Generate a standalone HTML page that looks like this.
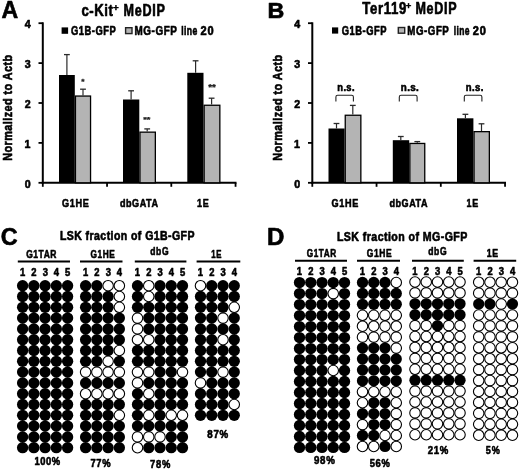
<!DOCTYPE html>
<html><head><meta charset="utf-8"><title>Figure</title>
<style>
html,body{margin:0;padding:0;background:#fff;overflow:hidden;}
svg{display:block;}
text{font-family:"Liberation Sans",sans-serif;font-weight:bold;stroke:#000;stroke-width:0.62px;stroke-linejoin:round;}
</style></head><body>
<svg width="520" height="469" viewBox="0 0 520 469">
<rect x="0" y="0" width="520" height="469" fill="#fff"/>
<text transform="translate(1.42,18.10) scale(0.9844,1)" font-size="23.5" fill="#000">A</text>
<text transform="translate(81.47,15.90) scale(0.8462,1)" font-size="15.6" fill="#000" letter-spacing="0.637">c-Kit</text>
<text transform="translate(113.10,10.51) scale(1.0520,1)" font-size="9.41" fill="#000" style="stroke-width:0.4px">+</text>
<text transform="translate(123.58,15.90) scale(0.8056,1)" font-size="15.6" fill="#000" letter-spacing="0.869">MeDIP</text>
<rect x="61.60" y="27.40" width="6.50" height="6.40" fill="#000"/>
<text transform="translate(71.03,35.20) scale(0.7667,1)" font-size="12.2" fill="#000" letter-spacing="0.670">G1B-GFP</text>
<rect x="125.60" y="27.70" width="6.40" height="5.90" fill="#b4b4b4" stroke="#222" stroke-width="1.4"/>
<text transform="translate(134.46,35.20) scale(0.8101,1)" font-size="12.2" fill="#000" letter-spacing="0.717">MG-GFP</text>
<text transform="translate(181.30,35.20) scale(0.7080,1)" font-size="12.2" fill="#000" letter-spacing="0.494">line</text>
<text transform="translate(200.51,35.20) scale(0.9059,1)" font-size="12.2" fill="#000" letter-spacing="0.950">20</text>
<line x1="42.80" y1="22.30" x2="42.80" y2="183.80" stroke="#000" stroke-width="2"/>
<line x1="41.80" y1="182.80" x2="236.50" y2="182.80" stroke="#000" stroke-width="2"/>
<line x1="38.50" y1="182.80" x2="42.80" y2="182.80" stroke="#000" stroke-width="1.8"/>
<text transform="translate(24.74,187.70) scale(0.9200,1)" font-size="11.6" fill="#000">0</text>
<line x1="38.50" y1="142.90" x2="42.80" y2="142.90" stroke="#000" stroke-width="1.8"/>
<text transform="translate(24.53,147.80) scale(0.9200,1)" font-size="11.6" fill="#000">1</text>
<line x1="38.50" y1="103.00" x2="42.80" y2="103.00" stroke="#000" stroke-width="1.8"/>
<text transform="translate(24.77,107.90) scale(0.9200,1)" font-size="11.6" fill="#000">2</text>
<line x1="38.50" y1="63.10" x2="42.80" y2="63.10" stroke="#000" stroke-width="1.8"/>
<text transform="translate(24.79,68.00) scale(0.9200,1)" font-size="11.6" fill="#000">3</text>
<line x1="38.50" y1="23.20" x2="42.80" y2="23.20" stroke="#000" stroke-width="1.8"/>
<text transform="translate(24.69,28.10) scale(0.9200,1)" font-size="11.6" fill="#000">4</text>
<line x1="42.80" y1="182.80" x2="42.80" y2="186.80" stroke="#000" stroke-width="1.8"/>
<line x1="107.05" y1="182.80" x2="107.05" y2="186.80" stroke="#000" stroke-width="1.8"/>
<line x1="171.30" y1="182.80" x2="171.30" y2="186.80" stroke="#000" stroke-width="1.8"/>
<line x1="235.55" y1="182.80" x2="235.55" y2="186.80" stroke="#000" stroke-width="1.8"/>
<text transform="rotate(-90) translate(-160.71,12.40) scale(0.8481,1)" font-size="12.8" fill="#000" letter-spacing="0.508">Normalized to Actb</text>
<rect x="59.00" y="75.00" width="15.80" height="107.80" fill="#000"/>
<line x1="66.90" y1="54.60" x2="66.90" y2="75.00" stroke="#2a2a2a" stroke-width="1.2"/>
<line x1="64.00" y1="54.60" x2="69.80" y2="54.60" stroke="#2a2a2a" stroke-width="1.3"/>
<rect x="75.45" y="96.05" width="15.10" height="86.75" fill="#b4b4b4" stroke="#000" stroke-width="1.3"/>
<line x1="83.00" y1="89.20" x2="83.00" y2="95.40" stroke="#2a2a2a" stroke-width="1.2"/>
<line x1="80.10" y1="89.20" x2="85.90" y2="89.20" stroke="#2a2a2a" stroke-width="1.3"/>
<rect x="123.00" y="99.50" width="16.30" height="83.30" fill="#000"/>
<line x1="131.10" y1="90.80" x2="131.10" y2="99.50" stroke="#2a2a2a" stroke-width="1.2"/>
<line x1="128.20" y1="90.80" x2="134.00" y2="90.80" stroke="#2a2a2a" stroke-width="1.3"/>
<rect x="139.95" y="132.15" width="15.40" height="50.65" fill="#b4b4b4" stroke="#000" stroke-width="1.3"/>
<line x1="147.20" y1="128.90" x2="147.20" y2="131.50" stroke="#2a2a2a" stroke-width="1.2"/>
<line x1="144.30" y1="128.90" x2="150.10" y2="128.90" stroke="#2a2a2a" stroke-width="1.3"/>
<rect x="187.30" y="72.80" width="16.20" height="110.00" fill="#000"/>
<line x1="195.60" y1="60.80" x2="195.60" y2="72.80" stroke="#2a2a2a" stroke-width="1.2"/>
<line x1="192.70" y1="60.80" x2="198.50" y2="60.80" stroke="#2a2a2a" stroke-width="1.3"/>
<rect x="204.15" y="105.25" width="15.70" height="77.55" fill="#b4b4b4" stroke="#000" stroke-width="1.3"/>
<line x1="211.60" y1="98.20" x2="211.60" y2="104.60" stroke="#2a2a2a" stroke-width="1.2"/>
<line x1="208.70" y1="98.20" x2="214.50" y2="98.20" stroke="#2a2a2a" stroke-width="1.3"/>
<text transform="translate(62.03,207.30) scale(0.7881,1)" font-size="11.6" fill="#000" letter-spacing="0.770">G1HE</text>
<text transform="translate(119.94,207.30) scale(0.7829,1)" font-size="11.6" fill="#000" letter-spacing="0.671">dbGATA</text>
<text transform="translate(197.12,207.30) scale(0.7731,1)" font-size="11.6" fill="#000" letter-spacing="0.978">1E</text>
<text transform="translate(81.26,84.21) scale(1.0744,1)" font-size="7.84" fill="#222" style="stroke-width:0.25px">*</text>
<text transform="translate(143.15,122.19) scale(1.1372,1)" font-size="8.11" fill="#222" style="stroke-width:0.25px">**</text>
<text transform="translate(208.15,90.18) scale(1.1625,1)" font-size="8.38" fill="#222" style="stroke-width:0.25px">**</text>
<text transform="translate(267.39,18.20) scale(1.0346,1)" font-size="22.5" fill="#000">B</text>
<text transform="translate(362.37,13.90) scale(0.8463,1)" font-size="15.6" fill="#000" letter-spacing="0.716">Ter119</text>
<text transform="translate(405.82,8.91) scale(1.0099,1)" font-size="9.41" fill="#000" style="stroke-width:0.4px">+</text>
<text transform="translate(415.49,13.90) scale(0.8036,1)" font-size="15.6" fill="#000" letter-spacing="0.869">MeDIP</text>
<rect x="332.00" y="27.40" width="6.20" height="6.20" fill="#000"/>
<text transform="translate(341.73,35.00) scale(0.7684,1)" font-size="12.2" fill="#000" letter-spacing="0.670">G1B-GFP</text>
<rect x="398.30" y="27.50" width="6.40" height="5.70" fill="#b4b4b4" stroke="#222" stroke-width="1.4"/>
<text transform="translate(407.27,35.00) scale(0.7945,1)" font-size="12.2" fill="#000" letter-spacing="0.717">MG-GFP</text>
<text transform="translate(453.80,35.00) scale(0.6986,1)" font-size="12.2" fill="#000" letter-spacing="0.494">line</text>
<text transform="translate(472.81,35.00) scale(0.9059,1)" font-size="12.2" fill="#000" letter-spacing="0.950">20</text>
<line x1="312.30" y1="22.30" x2="312.30" y2="183.80" stroke="#000" stroke-width="2"/>
<line x1="311.30" y1="182.80" x2="506.00" y2="182.80" stroke="#000" stroke-width="2"/>
<line x1="308.00" y1="182.80" x2="312.30" y2="182.80" stroke="#000" stroke-width="1.8"/>
<text transform="translate(294.24,187.70) scale(0.9200,1)" font-size="11.6" fill="#000">0</text>
<line x1="308.00" y1="142.90" x2="312.30" y2="142.90" stroke="#000" stroke-width="1.8"/>
<text transform="translate(294.03,147.80) scale(0.9200,1)" font-size="11.6" fill="#000">1</text>
<line x1="308.00" y1="103.00" x2="312.30" y2="103.00" stroke="#000" stroke-width="1.8"/>
<text transform="translate(294.27,107.90) scale(0.9200,1)" font-size="11.6" fill="#000">2</text>
<line x1="308.00" y1="63.10" x2="312.30" y2="63.10" stroke="#000" stroke-width="1.8"/>
<text transform="translate(294.29,68.00) scale(0.9200,1)" font-size="11.6" fill="#000">3</text>
<line x1="308.00" y1="23.20" x2="312.30" y2="23.20" stroke="#000" stroke-width="1.8"/>
<text transform="translate(294.19,28.10) scale(0.9200,1)" font-size="11.6" fill="#000">4</text>
<line x1="312.30" y1="182.80" x2="312.30" y2="186.80" stroke="#000" stroke-width="1.8"/>
<line x1="376.55" y1="182.80" x2="376.55" y2="186.80" stroke="#000" stroke-width="1.8"/>
<line x1="440.80" y1="182.80" x2="440.80" y2="186.80" stroke="#000" stroke-width="1.8"/>
<line x1="505.05" y1="182.80" x2="505.05" y2="186.80" stroke="#000" stroke-width="1.8"/>
<text transform="rotate(-90) translate(-160.71,281.90) scale(0.8481,1)" font-size="12.8" fill="#000" letter-spacing="0.508">Normalized to Actb</text>
<rect x="328.50" y="128.50" width="16.10" height="54.30" fill="#000"/>
<line x1="336.50" y1="123.50" x2="336.50" y2="128.50" stroke="#2a2a2a" stroke-width="1.2"/>
<line x1="333.60" y1="123.50" x2="339.40" y2="123.50" stroke="#2a2a2a" stroke-width="1.3"/>
<rect x="345.25" y="115.25" width="15.60" height="67.55" fill="#b4b4b4" stroke="#000" stroke-width="1.3"/>
<line x1="352.80" y1="105.40" x2="352.80" y2="114.60" stroke="#2a2a2a" stroke-width="1.2"/>
<line x1="349.90" y1="105.40" x2="355.70" y2="105.40" stroke="#2a2a2a" stroke-width="1.3"/>
<rect x="392.80" y="140.20" width="16.40" height="42.60" fill="#000"/>
<line x1="400.80" y1="136.50" x2="400.80" y2="140.20" stroke="#2a2a2a" stroke-width="1.2"/>
<line x1="397.90" y1="136.50" x2="403.70" y2="136.50" stroke="#2a2a2a" stroke-width="1.3"/>
<rect x="409.85" y="143.45" width="14.90" height="39.35" fill="#b4b4b4" stroke="#000" stroke-width="1.3"/>
<line x1="417.30" y1="141.60" x2="417.30" y2="142.80" stroke="#2a2a2a" stroke-width="1.2"/>
<line x1="414.40" y1="141.60" x2="420.20" y2="141.60" stroke="#2a2a2a" stroke-width="1.3"/>
<rect x="457.00" y="118.30" width="16.40" height="64.50" fill="#000"/>
<line x1="465.40" y1="114.30" x2="465.40" y2="118.30" stroke="#2a2a2a" stroke-width="1.2"/>
<line x1="462.50" y1="114.30" x2="468.30" y2="114.30" stroke="#2a2a2a" stroke-width="1.3"/>
<rect x="474.05" y="131.65" width="15.30" height="51.15" fill="#b4b4b4" stroke="#000" stroke-width="1.3"/>
<line x1="481.50" y1="123.80" x2="481.50" y2="131.00" stroke="#2a2a2a" stroke-width="1.2"/>
<line x1="478.60" y1="123.80" x2="484.40" y2="123.80" stroke="#2a2a2a" stroke-width="1.3"/>
<text transform="translate(331.53,207.30) scale(0.7881,1)" font-size="11.6" fill="#000" letter-spacing="0.770">G1HE</text>
<text transform="translate(389.44,207.30) scale(0.7829,1)" font-size="11.6" fill="#000" letter-spacing="0.671">dbGATA</text>
<text transform="translate(466.62,207.30) scale(0.7731,1)" font-size="11.6" fill="#000" letter-spacing="0.978">1E</text>
<path d="M335.9,101.6 V96.9 Q335.9,95.2 337.6,95.2 H351.7 Q353.4,95.2 353.4,96.9 V101.6" fill="none" stroke="#222" stroke-width="1.1"/>
<text transform="translate(337.29,90.60) scale(0.8508,1)" font-size="11" fill="#000" letter-spacing="0.439">n.s.</text>
<path d="M399.3,101.6 V96.9 Q399.3,95.2 401.0,95.2 H415.4 Q417.1,95.2 417.1,96.9 V101.6" fill="none" stroke="#222" stroke-width="1.1"/>
<text transform="translate(400.76,90.60) scale(0.8933,1)" font-size="11" fill="#000" letter-spacing="0.439">n.s.</text>
<path d="M464.3,101.6 V96.9 Q464.3,95.2 466.0,95.2 H480.2 Q481.9,95.2 481.9,96.9 V101.6" fill="none" stroke="#222" stroke-width="1.1"/>
<text transform="translate(465.78,90.60) scale(0.8667,1)" font-size="11" fill="#000" letter-spacing="0.439">n.s.</text>
<text transform="translate(0.67,245.40) scale(0.9613,1)" font-size="24.3" fill="#000">C</text>
<text transform="translate(59.92,239.90) scale(0.8364,1)" font-size="12.6" fill="#000" letter-spacing="0.508">LSK fraction of G1B-GFP</text>
<line x1="17.80" y1="261.50" x2="70.00" y2="261.50" stroke="#000" stroke-width="2"/>
<text transform="translate(26.26,257.80) scale(0.7509,1)" font-size="11.3" fill="#000" letter-spacing="0.692">G1TAR</text>
<text transform="translate(19.89,275.70) scale(0.8200,1)" font-size="11.5" fill="#000">1</text>
<text transform="translate(31.36,275.70) scale(0.8200,1)" font-size="11.5" fill="#000">2</text>
<text transform="translate(42.63,275.70) scale(0.8200,1)" font-size="11.5" fill="#000">3</text>
<text transform="translate(53.79,275.70) scale(0.8200,1)" font-size="11.5" fill="#000">4</text>
<text transform="translate(65.06,275.70) scale(0.8200,1)" font-size="11.5" fill="#000">5</text>
<circle cx="22.60" cy="285.70" r="5.65" fill="#000"/>
<circle cx="33.85" cy="285.70" r="5.65" fill="#000"/>
<circle cx="45.10" cy="285.70" r="5.65" fill="#000"/>
<circle cx="56.35" cy="285.70" r="5.65" fill="#000"/>
<circle cx="67.60" cy="285.70" r="5.65" fill="#000"/>
<circle cx="22.60" cy="296.50" r="5.65" fill="#000"/>
<circle cx="33.85" cy="296.50" r="5.65" fill="#000"/>
<circle cx="45.10" cy="296.50" r="5.65" fill="#000"/>
<circle cx="56.35" cy="296.50" r="5.65" fill="#000"/>
<circle cx="67.60" cy="296.50" r="5.65" fill="#000"/>
<circle cx="22.60" cy="307.30" r="5.65" fill="#000"/>
<circle cx="33.85" cy="307.30" r="5.65" fill="#000"/>
<circle cx="45.10" cy="307.30" r="5.65" fill="#000"/>
<circle cx="56.35" cy="307.30" r="5.65" fill="#000"/>
<circle cx="67.60" cy="307.30" r="5.65" fill="#000"/>
<circle cx="22.60" cy="318.10" r="5.65" fill="#000"/>
<circle cx="33.85" cy="318.10" r="5.65" fill="#000"/>
<circle cx="45.10" cy="318.10" r="5.65" fill="#000"/>
<circle cx="56.35" cy="318.10" r="5.65" fill="#000"/>
<circle cx="67.60" cy="318.10" r="5.65" fill="#000"/>
<circle cx="22.60" cy="328.90" r="5.65" fill="#000"/>
<circle cx="33.85" cy="328.90" r="5.65" fill="#000"/>
<circle cx="45.10" cy="328.90" r="5.65" fill="#000"/>
<circle cx="56.35" cy="328.90" r="5.65" fill="#000"/>
<circle cx="67.60" cy="328.90" r="5.65" fill="#000"/>
<circle cx="22.60" cy="339.70" r="5.65" fill="#000"/>
<circle cx="33.85" cy="339.70" r="5.65" fill="#000"/>
<circle cx="45.10" cy="339.70" r="5.65" fill="#000"/>
<circle cx="56.35" cy="339.70" r="5.65" fill="#000"/>
<circle cx="67.60" cy="339.70" r="5.65" fill="#000"/>
<circle cx="22.60" cy="350.50" r="5.65" fill="#000"/>
<circle cx="33.85" cy="350.50" r="5.65" fill="#000"/>
<circle cx="45.10" cy="350.50" r="5.65" fill="#000"/>
<circle cx="56.35" cy="350.50" r="5.65" fill="#000"/>
<circle cx="67.60" cy="350.50" r="5.65" fill="#000"/>
<circle cx="22.60" cy="361.30" r="5.65" fill="#000"/>
<circle cx="33.85" cy="361.30" r="5.65" fill="#000"/>
<circle cx="45.10" cy="361.30" r="5.65" fill="#000"/>
<circle cx="56.35" cy="361.30" r="5.65" fill="#000"/>
<circle cx="67.60" cy="361.30" r="5.65" fill="#000"/>
<circle cx="22.60" cy="372.10" r="5.65" fill="#000"/>
<circle cx="33.85" cy="372.10" r="5.65" fill="#000"/>
<circle cx="45.10" cy="372.10" r="5.65" fill="#000"/>
<circle cx="56.35" cy="372.10" r="5.65" fill="#000"/>
<circle cx="67.60" cy="372.10" r="5.65" fill="#000"/>
<circle cx="22.60" cy="382.90" r="5.65" fill="#000"/>
<circle cx="33.85" cy="382.90" r="5.65" fill="#000"/>
<circle cx="45.10" cy="382.90" r="5.65" fill="#000"/>
<circle cx="56.35" cy="382.90" r="5.65" fill="#000"/>
<circle cx="67.60" cy="382.90" r="5.65" fill="#000"/>
<circle cx="22.60" cy="393.70" r="5.65" fill="#000"/>
<circle cx="33.85" cy="393.70" r="5.65" fill="#000"/>
<circle cx="45.10" cy="393.70" r="5.65" fill="#000"/>
<circle cx="56.35" cy="393.70" r="5.65" fill="#000"/>
<circle cx="67.60" cy="393.70" r="5.65" fill="#000"/>
<circle cx="22.60" cy="404.50" r="5.65" fill="#000"/>
<circle cx="33.85" cy="404.50" r="5.65" fill="#000"/>
<circle cx="45.10" cy="404.50" r="5.65" fill="#000"/>
<circle cx="56.35" cy="404.50" r="5.65" fill="#000"/>
<circle cx="67.60" cy="404.50" r="5.65" fill="#000"/>
<circle cx="22.60" cy="415.30" r="5.65" fill="#000"/>
<circle cx="33.85" cy="415.30" r="5.65" fill="#000"/>
<circle cx="45.10" cy="415.30" r="5.65" fill="#000"/>
<circle cx="56.35" cy="415.30" r="5.65" fill="#000"/>
<circle cx="67.60" cy="415.30" r="5.65" fill="#000"/>
<circle cx="22.60" cy="426.10" r="5.65" fill="#000"/>
<circle cx="33.85" cy="426.10" r="5.65" fill="#000"/>
<circle cx="45.10" cy="426.10" r="5.65" fill="#000"/>
<circle cx="56.35" cy="426.10" r="5.65" fill="#000"/>
<circle cx="67.60" cy="426.10" r="5.65" fill="#000"/>
<circle cx="22.60" cy="436.90" r="5.65" fill="#000"/>
<circle cx="33.85" cy="436.90" r="5.65" fill="#000"/>
<circle cx="45.10" cy="436.90" r="5.65" fill="#000"/>
<circle cx="56.35" cy="436.90" r="5.65" fill="#000"/>
<circle cx="67.60" cy="436.90" r="5.65" fill="#000"/>
<circle cx="22.60" cy="447.70" r="5.65" fill="#000"/>
<circle cx="33.85" cy="447.70" r="5.65" fill="#000"/>
<circle cx="45.10" cy="447.70" r="5.65" fill="#000"/>
<circle cx="56.35" cy="447.70" r="5.65" fill="#000"/>
<circle cx="67.60" cy="447.70" r="5.65" fill="#000"/>
<line x1="80.00" y1="261.50" x2="122.50" y2="261.50" stroke="#000" stroke-width="2"/>
<text transform="translate(90.47,257.80) scale(0.7343,1)" font-size="11.3" fill="#000" letter-spacing="0.750">G1HE</text>
<text transform="translate(82.89,275.70) scale(0.8200,1)" font-size="11.5" fill="#000">1</text>
<text transform="translate(94.36,275.70) scale(0.8200,1)" font-size="11.5" fill="#000">2</text>
<text transform="translate(105.63,275.70) scale(0.8200,1)" font-size="11.5" fill="#000">3</text>
<text transform="translate(116.79,275.70) scale(0.8200,1)" font-size="11.5" fill="#000">4</text>
<circle cx="85.60" cy="285.70" r="5.65" fill="#000"/>
<circle cx="96.85" cy="285.70" r="5.65" fill="#000"/>
<circle cx="108.10" cy="285.70" r="5.25" fill="#fff" stroke="#000" stroke-width="1.1"/>
<circle cx="119.35" cy="285.70" r="5.25" fill="#fff" stroke="#000" stroke-width="1.1"/>
<circle cx="85.60" cy="296.50" r="5.65" fill="#000"/>
<circle cx="96.85" cy="296.50" r="5.65" fill="#000"/>
<circle cx="108.10" cy="296.50" r="5.65" fill="#000"/>
<circle cx="119.35" cy="296.50" r="5.25" fill="#fff" stroke="#000" stroke-width="1.1"/>
<circle cx="85.60" cy="307.30" r="5.65" fill="#000"/>
<circle cx="96.85" cy="307.30" r="5.65" fill="#000"/>
<circle cx="108.10" cy="307.30" r="5.65" fill="#000"/>
<circle cx="119.35" cy="307.30" r="5.25" fill="#fff" stroke="#000" stroke-width="1.1"/>
<circle cx="85.60" cy="318.10" r="5.65" fill="#000"/>
<circle cx="96.85" cy="318.10" r="5.65" fill="#000"/>
<circle cx="108.10" cy="318.10" r="5.65" fill="#000"/>
<circle cx="119.35" cy="318.10" r="5.65" fill="#000"/>
<circle cx="85.60" cy="328.90" r="5.65" fill="#000"/>
<circle cx="96.85" cy="328.90" r="5.65" fill="#000"/>
<circle cx="108.10" cy="328.90" r="5.65" fill="#000"/>
<circle cx="119.35" cy="328.90" r="5.65" fill="#000"/>
<circle cx="85.60" cy="339.70" r="5.65" fill="#000"/>
<circle cx="96.85" cy="339.70" r="5.65" fill="#000"/>
<circle cx="108.10" cy="339.70" r="5.65" fill="#000"/>
<circle cx="119.35" cy="339.70" r="5.65" fill="#000"/>
<circle cx="85.60" cy="350.50" r="5.65" fill="#000"/>
<circle cx="96.85" cy="350.50" r="5.65" fill="#000"/>
<circle cx="108.10" cy="350.50" r="5.65" fill="#000"/>
<circle cx="119.35" cy="350.50" r="5.25" fill="#fff" stroke="#000" stroke-width="1.1"/>
<circle cx="85.60" cy="361.30" r="5.65" fill="#000"/>
<circle cx="96.85" cy="361.30" r="5.65" fill="#000"/>
<circle cx="108.10" cy="361.30" r="5.25" fill="#fff" stroke="#000" stroke-width="1.1"/>
<circle cx="119.35" cy="361.30" r="5.65" fill="#000"/>
<circle cx="85.60" cy="372.10" r="5.25" fill="#fff" stroke="#000" stroke-width="1.1"/>
<circle cx="96.85" cy="372.10" r="5.25" fill="#fff" stroke="#000" stroke-width="1.1"/>
<circle cx="108.10" cy="372.10" r="5.25" fill="#fff" stroke="#000" stroke-width="1.1"/>
<circle cx="119.35" cy="372.10" r="5.25" fill="#fff" stroke="#000" stroke-width="1.1"/>
<circle cx="85.60" cy="382.90" r="5.65" fill="#000"/>
<circle cx="96.85" cy="382.90" r="5.65" fill="#000"/>
<circle cx="108.10" cy="382.90" r="5.65" fill="#000"/>
<circle cx="119.35" cy="382.90" r="5.65" fill="#000"/>
<circle cx="85.60" cy="393.70" r="5.25" fill="#fff" stroke="#000" stroke-width="1.1"/>
<circle cx="96.85" cy="393.70" r="5.25" fill="#fff" stroke="#000" stroke-width="1.1"/>
<circle cx="108.10" cy="393.70" r="5.25" fill="#fff" stroke="#000" stroke-width="1.1"/>
<circle cx="119.35" cy="393.70" r="5.25" fill="#fff" stroke="#000" stroke-width="1.1"/>
<circle cx="85.60" cy="404.50" r="5.65" fill="#000"/>
<circle cx="96.85" cy="404.50" r="5.65" fill="#000"/>
<circle cx="108.10" cy="404.50" r="5.65" fill="#000"/>
<circle cx="119.35" cy="404.50" r="5.65" fill="#000"/>
<circle cx="85.60" cy="415.30" r="5.65" fill="#000"/>
<circle cx="96.85" cy="415.30" r="5.65" fill="#000"/>
<circle cx="108.10" cy="415.30" r="5.65" fill="#000"/>
<circle cx="119.35" cy="415.30" r="5.25" fill="#fff" stroke="#000" stroke-width="1.1"/>
<circle cx="85.60" cy="426.10" r="5.65" fill="#000"/>
<circle cx="96.85" cy="426.10" r="5.65" fill="#000"/>
<circle cx="108.10" cy="426.10" r="5.65" fill="#000"/>
<circle cx="119.35" cy="426.10" r="5.65" fill="#000"/>
<circle cx="85.60" cy="436.90" r="5.65" fill="#000"/>
<circle cx="96.85" cy="436.90" r="5.65" fill="#000"/>
<circle cx="108.10" cy="436.90" r="5.65" fill="#000"/>
<circle cx="119.35" cy="436.90" r="5.65" fill="#000"/>
<circle cx="85.60" cy="447.70" r="5.65" fill="#000"/>
<circle cx="96.85" cy="447.70" r="5.65" fill="#000"/>
<circle cx="108.10" cy="447.70" r="5.65" fill="#000"/>
<circle cx="119.35" cy="447.70" r="5.65" fill="#000"/>
<line x1="134.80" y1="261.50" x2="186.40" y2="261.50" stroke="#000" stroke-width="2"/>
<text transform="translate(150.26,255.20) scale(0.7557,1)" font-size="11.3" fill="#000" letter-spacing="0.806">dbG</text>
<text transform="translate(134.79,275.70) scale(0.8200,1)" font-size="11.5" fill="#000">1</text>
<text transform="translate(146.26,275.70) scale(0.8200,1)" font-size="11.5" fill="#000">2</text>
<text transform="translate(157.53,275.70) scale(0.8200,1)" font-size="11.5" fill="#000">3</text>
<text transform="translate(168.69,275.70) scale(0.8200,1)" font-size="11.5" fill="#000">4</text>
<text transform="translate(179.96,275.70) scale(0.8200,1)" font-size="11.5" fill="#000">5</text>
<circle cx="137.50" cy="285.70" r="5.65" fill="#000"/>
<circle cx="148.75" cy="285.70" r="5.25" fill="#fff" stroke="#000" stroke-width="1.1"/>
<circle cx="160.00" cy="285.70" r="5.65" fill="#000"/>
<circle cx="171.25" cy="285.70" r="5.65" fill="#000"/>
<circle cx="182.50" cy="285.70" r="5.65" fill="#000"/>
<circle cx="137.50" cy="296.50" r="5.65" fill="#000"/>
<circle cx="148.75" cy="296.50" r="5.25" fill="#fff" stroke="#000" stroke-width="1.1"/>
<circle cx="160.00" cy="296.50" r="5.65" fill="#000"/>
<circle cx="171.25" cy="296.50" r="5.65" fill="#000"/>
<circle cx="182.50" cy="296.50" r="5.65" fill="#000"/>
<circle cx="137.50" cy="307.30" r="5.65" fill="#000"/>
<circle cx="148.75" cy="307.30" r="5.65" fill="#000"/>
<circle cx="160.00" cy="307.30" r="5.65" fill="#000"/>
<circle cx="171.25" cy="307.30" r="5.65" fill="#000"/>
<circle cx="182.50" cy="307.30" r="5.65" fill="#000"/>
<circle cx="137.50" cy="318.10" r="5.25" fill="#fff" stroke="#000" stroke-width="1.1"/>
<circle cx="148.75" cy="318.10" r="5.65" fill="#000"/>
<circle cx="160.00" cy="318.10" r="5.65" fill="#000"/>
<circle cx="171.25" cy="318.10" r="5.65" fill="#000"/>
<circle cx="182.50" cy="318.10" r="5.65" fill="#000"/>
<circle cx="137.50" cy="328.90" r="5.25" fill="#fff" stroke="#000" stroke-width="1.1"/>
<circle cx="148.75" cy="328.90" r="5.65" fill="#000"/>
<circle cx="160.00" cy="328.90" r="5.65" fill="#000"/>
<circle cx="171.25" cy="328.90" r="5.65" fill="#000"/>
<circle cx="182.50" cy="328.90" r="5.65" fill="#000"/>
<circle cx="137.50" cy="339.70" r="5.25" fill="#fff" stroke="#000" stroke-width="1.1"/>
<circle cx="148.75" cy="339.70" r="5.25" fill="#fff" stroke="#000" stroke-width="1.1"/>
<circle cx="160.00" cy="339.70" r="5.65" fill="#000"/>
<circle cx="171.25" cy="339.70" r="5.65" fill="#000"/>
<circle cx="182.50" cy="339.70" r="5.65" fill="#000"/>
<circle cx="137.50" cy="350.50" r="5.65" fill="#000"/>
<circle cx="148.75" cy="350.50" r="5.65" fill="#000"/>
<circle cx="160.00" cy="350.50" r="5.65" fill="#000"/>
<circle cx="171.25" cy="350.50" r="5.65" fill="#000"/>
<circle cx="182.50" cy="350.50" r="5.65" fill="#000"/>
<circle cx="137.50" cy="361.30" r="5.65" fill="#000"/>
<circle cx="148.75" cy="361.30" r="5.65" fill="#000"/>
<circle cx="160.00" cy="361.30" r="5.65" fill="#000"/>
<circle cx="171.25" cy="361.30" r="5.65" fill="#000"/>
<circle cx="182.50" cy="361.30" r="5.65" fill="#000"/>
<circle cx="137.50" cy="372.10" r="5.25" fill="#fff" stroke="#000" stroke-width="1.1"/>
<circle cx="148.75" cy="372.10" r="5.25" fill="#fff" stroke="#000" stroke-width="1.1"/>
<circle cx="160.00" cy="372.10" r="5.65" fill="#000"/>
<circle cx="171.25" cy="372.10" r="5.65" fill="#000"/>
<circle cx="182.50" cy="372.10" r="5.25" fill="#fff" stroke="#000" stroke-width="1.1"/>
<circle cx="137.50" cy="382.90" r="5.25" fill="#fff" stroke="#000" stroke-width="1.1"/>
<circle cx="148.75" cy="382.90" r="5.65" fill="#000"/>
<circle cx="160.00" cy="382.90" r="5.65" fill="#000"/>
<circle cx="171.25" cy="382.90" r="5.65" fill="#000"/>
<circle cx="182.50" cy="382.90" r="5.65" fill="#000"/>
<circle cx="137.50" cy="393.70" r="5.65" fill="#000"/>
<circle cx="148.75" cy="393.70" r="5.25" fill="#fff" stroke="#000" stroke-width="1.1"/>
<circle cx="160.00" cy="393.70" r="5.65" fill="#000"/>
<circle cx="171.25" cy="393.70" r="5.65" fill="#000"/>
<circle cx="182.50" cy="393.70" r="5.65" fill="#000"/>
<circle cx="137.50" cy="404.50" r="5.65" fill="#000"/>
<circle cx="148.75" cy="404.50" r="5.65" fill="#000"/>
<circle cx="160.00" cy="404.50" r="5.65" fill="#000"/>
<circle cx="171.25" cy="404.50" r="5.65" fill="#000"/>
<circle cx="182.50" cy="404.50" r="5.65" fill="#000"/>
<circle cx="137.50" cy="415.30" r="5.65" fill="#000"/>
<circle cx="148.75" cy="415.30" r="5.25" fill="#fff" stroke="#000" stroke-width="1.1"/>
<circle cx="160.00" cy="415.30" r="5.65" fill="#000"/>
<circle cx="171.25" cy="415.30" r="5.25" fill="#fff" stroke="#000" stroke-width="1.1"/>
<circle cx="182.50" cy="415.30" r="5.25" fill="#fff" stroke="#000" stroke-width="1.1"/>
<circle cx="137.50" cy="426.10" r="5.65" fill="#000"/>
<circle cx="148.75" cy="426.10" r="5.65" fill="#000"/>
<circle cx="160.00" cy="426.10" r="5.65" fill="#000"/>
<circle cx="171.25" cy="426.10" r="5.65" fill="#000"/>
<circle cx="182.50" cy="426.10" r="5.65" fill="#000"/>
<circle cx="137.50" cy="436.90" r="5.25" fill="#fff" stroke="#000" stroke-width="1.1"/>
<circle cx="148.75" cy="436.90" r="5.25" fill="#fff" stroke="#000" stroke-width="1.1"/>
<circle cx="160.00" cy="436.90" r="5.25" fill="#fff" stroke="#000" stroke-width="1.1"/>
<circle cx="171.25" cy="436.90" r="5.65" fill="#000"/>
<circle cx="182.50" cy="436.90" r="5.65" fill="#000"/>
<circle cx="137.50" cy="447.70" r="5.25" fill="#fff" stroke="#000" stroke-width="1.1"/>
<circle cx="148.75" cy="447.70" r="5.65" fill="#000"/>
<circle cx="160.00" cy="447.70" r="5.65" fill="#000"/>
<circle cx="171.25" cy="447.70" r="5.65" fill="#000"/>
<circle cx="182.50" cy="447.70" r="5.65" fill="#000"/>
<line x1="196.60" y1="261.50" x2="240.30" y2="261.50" stroke="#000" stroke-width="2"/>
<text transform="translate(211.29,258.40) scale(0.6907,1)" font-size="11.3" fill="#000" letter-spacing="0.953">1E</text>
<text transform="translate(197.79,275.70) scale(0.8200,1)" font-size="11.5" fill="#000">1</text>
<text transform="translate(209.26,275.70) scale(0.8200,1)" font-size="11.5" fill="#000">2</text>
<text transform="translate(220.53,275.70) scale(0.8200,1)" font-size="11.5" fill="#000">3</text>
<text transform="translate(231.69,275.70) scale(0.8200,1)" font-size="11.5" fill="#000">4</text>
<circle cx="200.50" cy="285.70" r="5.25" fill="#fff" stroke="#000" stroke-width="1.1"/>
<circle cx="211.75" cy="285.70" r="5.65" fill="#000"/>
<circle cx="223.00" cy="285.70" r="5.65" fill="#000"/>
<circle cx="234.25" cy="285.70" r="5.65" fill="#000"/>
<circle cx="200.50" cy="296.50" r="5.65" fill="#000"/>
<circle cx="211.75" cy="296.50" r="5.65" fill="#000"/>
<circle cx="223.00" cy="296.50" r="5.65" fill="#000"/>
<circle cx="234.25" cy="296.50" r="5.65" fill="#000"/>
<circle cx="200.50" cy="307.30" r="5.65" fill="#000"/>
<circle cx="211.75" cy="307.30" r="5.65" fill="#000"/>
<circle cx="223.00" cy="307.30" r="5.65" fill="#000"/>
<circle cx="234.25" cy="307.30" r="5.25" fill="#fff" stroke="#000" stroke-width="1.1"/>
<circle cx="200.50" cy="318.10" r="5.65" fill="#000"/>
<circle cx="211.75" cy="318.10" r="5.65" fill="#000"/>
<circle cx="223.00" cy="318.10" r="5.25" fill="#fff" stroke="#000" stroke-width="1.1"/>
<circle cx="234.25" cy="318.10" r="5.65" fill="#000"/>
<circle cx="200.50" cy="328.90" r="5.65" fill="#000"/>
<circle cx="211.75" cy="328.90" r="5.65" fill="#000"/>
<circle cx="223.00" cy="328.90" r="5.65" fill="#000"/>
<circle cx="234.25" cy="328.90" r="5.65" fill="#000"/>
<circle cx="200.50" cy="339.70" r="5.65" fill="#000"/>
<circle cx="211.75" cy="339.70" r="5.65" fill="#000"/>
<circle cx="223.00" cy="339.70" r="5.25" fill="#fff" stroke="#000" stroke-width="1.1"/>
<circle cx="234.25" cy="339.70" r="5.65" fill="#000"/>
<circle cx="200.50" cy="350.50" r="5.65" fill="#000"/>
<circle cx="211.75" cy="350.50" r="5.65" fill="#000"/>
<circle cx="223.00" cy="350.50" r="5.65" fill="#000"/>
<circle cx="234.25" cy="350.50" r="5.65" fill="#000"/>
<circle cx="200.50" cy="361.30" r="5.65" fill="#000"/>
<circle cx="211.75" cy="361.30" r="5.65" fill="#000"/>
<circle cx="223.00" cy="361.30" r="5.65" fill="#000"/>
<circle cx="234.25" cy="361.30" r="5.65" fill="#000"/>
<circle cx="200.50" cy="372.10" r="5.65" fill="#000"/>
<circle cx="211.75" cy="372.10" r="5.65" fill="#000"/>
<circle cx="223.00" cy="372.10" r="5.25" fill="#fff" stroke="#000" stroke-width="1.1"/>
<circle cx="234.25" cy="372.10" r="5.65" fill="#000"/>
<circle cx="200.50" cy="382.90" r="5.25" fill="#fff" stroke="#000" stroke-width="1.1"/>
<circle cx="211.75" cy="382.90" r="5.65" fill="#000"/>
<circle cx="223.00" cy="382.90" r="5.65" fill="#000"/>
<circle cx="234.25" cy="382.90" r="5.65" fill="#000"/>
<circle cx="200.50" cy="393.70" r="5.65" fill="#000"/>
<circle cx="211.75" cy="393.70" r="5.65" fill="#000"/>
<circle cx="223.00" cy="393.70" r="5.65" fill="#000"/>
<circle cx="234.25" cy="393.70" r="5.65" fill="#000"/>
<circle cx="200.50" cy="404.50" r="5.65" fill="#000"/>
<circle cx="211.75" cy="404.50" r="5.65" fill="#000"/>
<circle cx="223.00" cy="404.50" r="5.65" fill="#000"/>
<circle cx="234.25" cy="404.50" r="5.25" fill="#fff" stroke="#000" stroke-width="1.1"/>
<circle cx="200.50" cy="415.30" r="5.65" fill="#000"/>
<circle cx="211.75" cy="415.30" r="5.65" fill="#000"/>
<circle cx="223.00" cy="415.30" r="5.65" fill="#000"/>
<circle cx="234.25" cy="415.30" r="5.65" fill="#000"/>
<text transform="translate(34.39,465.40) scale(0.8257,1)" font-size="11.4" fill="#000" letter-spacing="0.706">100%</text>
<text transform="translate(90.38,467.00) scale(0.8242,1)" font-size="11.4" fill="#000" letter-spacing="0.828">77%</text>
<text transform="translate(150.08,467.60) scale(0.8242,1)" font-size="11.4" fill="#000" letter-spacing="0.828">78%</text>
<text transform="translate(207.31,437.60) scale(0.8556,1)" font-size="11.4" fill="#000" letter-spacing="0.834">87%</text>
<text transform="translate(267.04,244.80) scale(1.0284,1)" font-size="23.4" fill="#000">D</text>
<text transform="translate(336.91,240.50) scale(0.8425,1)" font-size="12.6" fill="#000" letter-spacing="0.512">LSK fraction of MG-GFP</text>
<line x1="295.00" y1="260.70" x2="347.00" y2="260.70" stroke="#000" stroke-width="2"/>
<text transform="translate(306.87,257.20) scale(0.7282,1)" font-size="11.3" fill="#000" letter-spacing="0.692">G1TAR</text>
<text transform="translate(296.79,275.00) scale(0.8200,1)" font-size="11.5" fill="#000">1</text>
<text transform="translate(308.26,275.00) scale(0.8200,1)" font-size="11.5" fill="#000">2</text>
<text transform="translate(319.53,275.00) scale(0.8200,1)" font-size="11.5" fill="#000">3</text>
<text transform="translate(330.69,275.00) scale(0.8200,1)" font-size="11.5" fill="#000">4</text>
<text transform="translate(341.96,275.00) scale(0.8200,1)" font-size="11.5" fill="#000">5</text>
<circle cx="299.50" cy="282.60" r="5.65" fill="#000"/>
<circle cx="310.75" cy="282.60" r="5.65" fill="#000"/>
<circle cx="322.00" cy="282.60" r="5.65" fill="#000"/>
<circle cx="333.25" cy="282.60" r="5.65" fill="#000"/>
<circle cx="344.50" cy="282.60" r="5.65" fill="#000"/>
<circle cx="299.50" cy="293.59" r="5.65" fill="#000"/>
<circle cx="310.75" cy="293.59" r="5.65" fill="#000"/>
<circle cx="322.00" cy="293.59" r="5.65" fill="#000"/>
<circle cx="333.25" cy="293.59" r="5.25" fill="#fff" stroke="#000" stroke-width="1.1"/>
<circle cx="344.50" cy="293.59" r="5.65" fill="#000"/>
<circle cx="299.50" cy="304.58" r="5.65" fill="#000"/>
<circle cx="310.75" cy="304.58" r="5.65" fill="#000"/>
<circle cx="322.00" cy="304.58" r="5.65" fill="#000"/>
<circle cx="333.25" cy="304.58" r="5.65" fill="#000"/>
<circle cx="344.50" cy="304.58" r="5.65" fill="#000"/>
<circle cx="299.50" cy="315.57" r="5.65" fill="#000"/>
<circle cx="310.75" cy="315.57" r="5.65" fill="#000"/>
<circle cx="322.00" cy="315.57" r="5.65" fill="#000"/>
<circle cx="333.25" cy="315.57" r="5.65" fill="#000"/>
<circle cx="344.50" cy="315.57" r="5.65" fill="#000"/>
<circle cx="299.50" cy="326.56" r="5.65" fill="#000"/>
<circle cx="310.75" cy="326.56" r="5.65" fill="#000"/>
<circle cx="322.00" cy="326.56" r="5.65" fill="#000"/>
<circle cx="333.25" cy="326.56" r="5.65" fill="#000"/>
<circle cx="344.50" cy="326.56" r="5.65" fill="#000"/>
<circle cx="299.50" cy="337.55" r="5.65" fill="#000"/>
<circle cx="310.75" cy="337.55" r="5.65" fill="#000"/>
<circle cx="322.00" cy="337.55" r="5.65" fill="#000"/>
<circle cx="333.25" cy="337.55" r="5.65" fill="#000"/>
<circle cx="344.50" cy="337.55" r="5.65" fill="#000"/>
<circle cx="299.50" cy="348.54" r="5.65" fill="#000"/>
<circle cx="310.75" cy="348.54" r="5.65" fill="#000"/>
<circle cx="322.00" cy="348.54" r="5.65" fill="#000"/>
<circle cx="333.25" cy="348.54" r="5.65" fill="#000"/>
<circle cx="344.50" cy="348.54" r="5.65" fill="#000"/>
<circle cx="299.50" cy="359.53" r="5.65" fill="#000"/>
<circle cx="310.75" cy="359.53" r="5.65" fill="#000"/>
<circle cx="322.00" cy="359.53" r="5.65" fill="#000"/>
<circle cx="333.25" cy="359.53" r="5.65" fill="#000"/>
<circle cx="344.50" cy="359.53" r="5.65" fill="#000"/>
<circle cx="299.50" cy="370.52" r="5.65" fill="#000"/>
<circle cx="310.75" cy="370.52" r="5.65" fill="#000"/>
<circle cx="322.00" cy="370.52" r="5.65" fill="#000"/>
<circle cx="333.25" cy="370.52" r="5.25" fill="#fff" stroke="#000" stroke-width="1.1"/>
<circle cx="344.50" cy="370.52" r="5.65" fill="#000"/>
<circle cx="299.50" cy="381.51" r="5.65" fill="#000"/>
<circle cx="310.75" cy="381.51" r="5.65" fill="#000"/>
<circle cx="322.00" cy="381.51" r="5.65" fill="#000"/>
<circle cx="333.25" cy="381.51" r="5.65" fill="#000"/>
<circle cx="344.50" cy="381.51" r="5.65" fill="#000"/>
<circle cx="299.50" cy="392.50" r="5.65" fill="#000"/>
<circle cx="310.75" cy="392.50" r="5.65" fill="#000"/>
<circle cx="322.00" cy="392.50" r="5.65" fill="#000"/>
<circle cx="333.25" cy="392.50" r="5.65" fill="#000"/>
<circle cx="344.50" cy="392.50" r="5.65" fill="#000"/>
<circle cx="299.50" cy="403.49" r="5.65" fill="#000"/>
<circle cx="310.75" cy="403.49" r="5.65" fill="#000"/>
<circle cx="322.00" cy="403.49" r="5.65" fill="#000"/>
<circle cx="333.25" cy="403.49" r="5.65" fill="#000"/>
<circle cx="344.50" cy="403.49" r="5.65" fill="#000"/>
<circle cx="299.50" cy="414.48" r="5.65" fill="#000"/>
<circle cx="310.75" cy="414.48" r="5.65" fill="#000"/>
<circle cx="322.00" cy="414.48" r="5.65" fill="#000"/>
<circle cx="333.25" cy="414.48" r="5.65" fill="#000"/>
<circle cx="344.50" cy="414.48" r="5.65" fill="#000"/>
<circle cx="299.50" cy="425.47" r="5.65" fill="#000"/>
<circle cx="310.75" cy="425.47" r="5.65" fill="#000"/>
<circle cx="322.00" cy="425.47" r="5.65" fill="#000"/>
<circle cx="333.25" cy="425.47" r="5.65" fill="#000"/>
<circle cx="344.50" cy="425.47" r="5.65" fill="#000"/>
<circle cx="299.50" cy="436.46" r="5.65" fill="#000"/>
<circle cx="310.75" cy="436.46" r="5.65" fill="#000"/>
<circle cx="322.00" cy="436.46" r="5.65" fill="#000"/>
<circle cx="333.25" cy="436.46" r="5.65" fill="#000"/>
<circle cx="344.50" cy="436.46" r="5.65" fill="#000"/>
<circle cx="299.50" cy="447.45" r="5.65" fill="#000"/>
<circle cx="310.75" cy="447.45" r="5.65" fill="#000"/>
<circle cx="322.00" cy="447.45" r="5.65" fill="#000"/>
<circle cx="333.25" cy="447.45" r="5.65" fill="#000"/>
<circle cx="344.50" cy="447.45" r="5.65" fill="#000"/>
<line x1="357.00" y1="260.70" x2="400.00" y2="260.70" stroke="#000" stroke-width="2"/>
<text transform="translate(366.86,257.20) scale(0.7530,1)" font-size="11.3" fill="#000" letter-spacing="0.750">G1HE</text>
<text transform="translate(359.79,275.00) scale(0.8200,1)" font-size="11.5" fill="#000">1</text>
<text transform="translate(371.26,275.00) scale(0.8200,1)" font-size="11.5" fill="#000">2</text>
<text transform="translate(382.53,275.00) scale(0.8200,1)" font-size="11.5" fill="#000">3</text>
<text transform="translate(393.69,275.00) scale(0.8200,1)" font-size="11.5" fill="#000">4</text>
<circle cx="362.50" cy="282.50" r="5.65" fill="#000"/>
<circle cx="373.75" cy="282.50" r="5.65" fill="#000"/>
<circle cx="385.00" cy="282.50" r="5.65" fill="#000"/>
<circle cx="396.25" cy="282.50" r="5.25" fill="#fff" stroke="#000" stroke-width="1.1"/>
<circle cx="362.50" cy="293.43" r="5.65" fill="#000"/>
<circle cx="373.75" cy="293.43" r="5.65" fill="#000"/>
<circle cx="385.00" cy="293.43" r="5.65" fill="#000"/>
<circle cx="396.25" cy="293.43" r="5.65" fill="#000"/>
<circle cx="362.50" cy="304.36" r="5.65" fill="#000"/>
<circle cx="373.75" cy="304.36" r="5.65" fill="#000"/>
<circle cx="385.00" cy="304.36" r="5.65" fill="#000"/>
<circle cx="396.25" cy="304.36" r="5.65" fill="#000"/>
<circle cx="362.50" cy="315.29" r="5.25" fill="#fff" stroke="#000" stroke-width="1.1"/>
<circle cx="373.75" cy="315.29" r="5.25" fill="#fff" stroke="#000" stroke-width="1.1"/>
<circle cx="385.00" cy="315.29" r="5.25" fill="#fff" stroke="#000" stroke-width="1.1"/>
<circle cx="396.25" cy="315.29" r="5.25" fill="#fff" stroke="#000" stroke-width="1.1"/>
<circle cx="362.50" cy="326.22" r="5.25" fill="#fff" stroke="#000" stroke-width="1.1"/>
<circle cx="373.75" cy="326.22" r="5.25" fill="#fff" stroke="#000" stroke-width="1.1"/>
<circle cx="385.00" cy="326.22" r="5.25" fill="#fff" stroke="#000" stroke-width="1.1"/>
<circle cx="396.25" cy="326.22" r="5.25" fill="#fff" stroke="#000" stroke-width="1.1"/>
<circle cx="362.50" cy="337.15" r="5.25" fill="#fff" stroke="#000" stroke-width="1.1"/>
<circle cx="373.75" cy="337.15" r="5.25" fill="#fff" stroke="#000" stroke-width="1.1"/>
<circle cx="385.00" cy="337.15" r="5.25" fill="#fff" stroke="#000" stroke-width="1.1"/>
<circle cx="396.25" cy="337.15" r="5.25" fill="#fff" stroke="#000" stroke-width="1.1"/>
<circle cx="362.50" cy="348.08" r="5.65" fill="#000"/>
<circle cx="373.75" cy="348.08" r="5.65" fill="#000"/>
<circle cx="385.00" cy="348.08" r="5.65" fill="#000"/>
<circle cx="396.25" cy="348.08" r="5.25" fill="#fff" stroke="#000" stroke-width="1.1"/>
<circle cx="362.50" cy="359.01" r="5.65" fill="#000"/>
<circle cx="373.75" cy="359.01" r="5.65" fill="#000"/>
<circle cx="385.00" cy="359.01" r="5.65" fill="#000"/>
<circle cx="396.25" cy="359.01" r="5.65" fill="#000"/>
<circle cx="362.50" cy="369.94" r="5.65" fill="#000"/>
<circle cx="373.75" cy="369.94" r="5.65" fill="#000"/>
<circle cx="385.00" cy="369.94" r="5.65" fill="#000"/>
<circle cx="396.25" cy="369.94" r="5.65" fill="#000"/>
<circle cx="362.50" cy="380.87" r="5.65" fill="#000"/>
<circle cx="373.75" cy="380.87" r="5.65" fill="#000"/>
<circle cx="385.00" cy="380.87" r="5.65" fill="#000"/>
<circle cx="396.25" cy="380.87" r="5.65" fill="#000"/>
<circle cx="362.50" cy="391.80" r="5.25" fill="#fff" stroke="#000" stroke-width="1.1"/>
<circle cx="373.75" cy="391.80" r="5.25" fill="#fff" stroke="#000" stroke-width="1.1"/>
<circle cx="385.00" cy="391.80" r="5.25" fill="#fff" stroke="#000" stroke-width="1.1"/>
<circle cx="396.25" cy="391.80" r="5.25" fill="#fff" stroke="#000" stroke-width="1.1"/>
<circle cx="362.50" cy="402.73" r="5.25" fill="#fff" stroke="#000" stroke-width="1.1"/>
<circle cx="373.75" cy="402.73" r="5.65" fill="#000"/>
<circle cx="385.00" cy="402.73" r="5.65" fill="#000"/>
<circle cx="396.25" cy="402.73" r="5.25" fill="#fff" stroke="#000" stroke-width="1.1"/>
<circle cx="362.50" cy="413.66" r="5.65" fill="#000"/>
<circle cx="373.75" cy="413.66" r="5.65" fill="#000"/>
<circle cx="385.00" cy="413.66" r="5.65" fill="#000"/>
<circle cx="396.25" cy="413.66" r="5.25" fill="#fff" stroke="#000" stroke-width="1.1"/>
<circle cx="362.50" cy="424.59" r="5.25" fill="#fff" stroke="#000" stroke-width="1.1"/>
<circle cx="373.75" cy="424.59" r="5.65" fill="#000"/>
<circle cx="385.00" cy="424.59" r="5.65" fill="#000"/>
<circle cx="396.25" cy="424.59" r="5.25" fill="#fff" stroke="#000" stroke-width="1.1"/>
<circle cx="362.50" cy="435.52" r="5.65" fill="#000"/>
<circle cx="373.75" cy="435.52" r="5.65" fill="#000"/>
<circle cx="385.00" cy="435.52" r="5.25" fill="#fff" stroke="#000" stroke-width="1.1"/>
<circle cx="396.25" cy="435.52" r="5.25" fill="#fff" stroke="#000" stroke-width="1.1"/>
<circle cx="362.50" cy="446.45" r="5.25" fill="#fff" stroke="#000" stroke-width="1.1"/>
<circle cx="373.75" cy="446.45" r="5.25" fill="#fff" stroke="#000" stroke-width="1.1"/>
<circle cx="385.00" cy="446.45" r="5.65" fill="#000"/>
<circle cx="396.25" cy="446.45" r="5.25" fill="#fff" stroke="#000" stroke-width="1.1"/>
<line x1="412.00" y1="260.70" x2="463.80" y2="260.70" stroke="#000" stroke-width="2"/>
<text transform="translate(428.26,254.70) scale(0.7600,1)" font-size="11.3" fill="#000" letter-spacing="0.806">dbG</text>
<text transform="translate(412.29,275.00) scale(0.8200,1)" font-size="11.5" fill="#000">1</text>
<text transform="translate(423.76,275.00) scale(0.8200,1)" font-size="11.5" fill="#000">2</text>
<text transform="translate(435.03,275.00) scale(0.8200,1)" font-size="11.5" fill="#000">3</text>
<text transform="translate(446.19,275.00) scale(0.8200,1)" font-size="11.5" fill="#000">4</text>
<text transform="translate(457.46,275.00) scale(0.8200,1)" font-size="11.5" fill="#000">5</text>
<circle cx="415.00" cy="282.00" r="5.25" fill="#fff" stroke="#000" stroke-width="1.1"/>
<circle cx="426.25" cy="282.00" r="5.25" fill="#fff" stroke="#000" stroke-width="1.1"/>
<circle cx="437.50" cy="282.00" r="5.25" fill="#fff" stroke="#000" stroke-width="1.1"/>
<circle cx="448.75" cy="282.00" r="5.25" fill="#fff" stroke="#000" stroke-width="1.1"/>
<circle cx="460.00" cy="282.00" r="5.25" fill="#fff" stroke="#000" stroke-width="1.1"/>
<circle cx="415.00" cy="292.91" r="5.25" fill="#fff" stroke="#000" stroke-width="1.1"/>
<circle cx="426.25" cy="292.91" r="5.25" fill="#fff" stroke="#000" stroke-width="1.1"/>
<circle cx="437.50" cy="292.91" r="5.25" fill="#fff" stroke="#000" stroke-width="1.1"/>
<circle cx="448.75" cy="292.91" r="5.25" fill="#fff" stroke="#000" stroke-width="1.1"/>
<circle cx="460.00" cy="292.91" r="5.25" fill="#fff" stroke="#000" stroke-width="1.1"/>
<circle cx="415.00" cy="303.82" r="5.65" fill="#000"/>
<circle cx="426.25" cy="303.82" r="5.65" fill="#000"/>
<circle cx="437.50" cy="303.82" r="5.65" fill="#000"/>
<circle cx="448.75" cy="303.82" r="5.65" fill="#000"/>
<circle cx="460.00" cy="303.82" r="5.65" fill="#000"/>
<circle cx="415.00" cy="314.73" r="5.65" fill="#000"/>
<circle cx="426.25" cy="314.73" r="5.65" fill="#000"/>
<circle cx="437.50" cy="314.73" r="5.65" fill="#000"/>
<circle cx="448.75" cy="314.73" r="5.65" fill="#000"/>
<circle cx="460.00" cy="314.73" r="5.65" fill="#000"/>
<circle cx="415.00" cy="325.64" r="5.25" fill="#fff" stroke="#000" stroke-width="1.1"/>
<circle cx="426.25" cy="325.64" r="5.25" fill="#fff" stroke="#000" stroke-width="1.1"/>
<circle cx="437.50" cy="325.64" r="5.65" fill="#000"/>
<circle cx="448.75" cy="325.64" r="5.25" fill="#fff" stroke="#000" stroke-width="1.1"/>
<circle cx="460.00" cy="325.64" r="5.25" fill="#fff" stroke="#000" stroke-width="1.1"/>
<circle cx="415.00" cy="336.55" r="5.25" fill="#fff" stroke="#000" stroke-width="1.1"/>
<circle cx="426.25" cy="336.55" r="5.25" fill="#fff" stroke="#000" stroke-width="1.1"/>
<circle cx="437.50" cy="336.55" r="5.25" fill="#fff" stroke="#000" stroke-width="1.1"/>
<circle cx="448.75" cy="336.55" r="5.25" fill="#fff" stroke="#000" stroke-width="1.1"/>
<circle cx="460.00" cy="336.55" r="5.25" fill="#fff" stroke="#000" stroke-width="1.1"/>
<circle cx="415.00" cy="347.46" r="5.25" fill="#fff" stroke="#000" stroke-width="1.1"/>
<circle cx="426.25" cy="347.46" r="5.25" fill="#fff" stroke="#000" stroke-width="1.1"/>
<circle cx="437.50" cy="347.46" r="5.25" fill="#fff" stroke="#000" stroke-width="1.1"/>
<circle cx="448.75" cy="347.46" r="5.25" fill="#fff" stroke="#000" stroke-width="1.1"/>
<circle cx="460.00" cy="347.46" r="5.25" fill="#fff" stroke="#000" stroke-width="1.1"/>
<circle cx="415.00" cy="358.37" r="5.25" fill="#fff" stroke="#000" stroke-width="1.1"/>
<circle cx="426.25" cy="358.37" r="5.25" fill="#fff" stroke="#000" stroke-width="1.1"/>
<circle cx="437.50" cy="358.37" r="5.25" fill="#fff" stroke="#000" stroke-width="1.1"/>
<circle cx="448.75" cy="358.37" r="5.25" fill="#fff" stroke="#000" stroke-width="1.1"/>
<circle cx="460.00" cy="358.37" r="5.25" fill="#fff" stroke="#000" stroke-width="1.1"/>
<circle cx="415.00" cy="369.28" r="5.25" fill="#fff" stroke="#000" stroke-width="1.1"/>
<circle cx="426.25" cy="369.28" r="5.25" fill="#fff" stroke="#000" stroke-width="1.1"/>
<circle cx="437.50" cy="369.28" r="5.25" fill="#fff" stroke="#000" stroke-width="1.1"/>
<circle cx="448.75" cy="369.28" r="5.25" fill="#fff" stroke="#000" stroke-width="1.1"/>
<circle cx="460.00" cy="369.28" r="5.25" fill="#fff" stroke="#000" stroke-width="1.1"/>
<circle cx="415.00" cy="380.19" r="5.65" fill="#000"/>
<circle cx="426.25" cy="380.19" r="5.65" fill="#000"/>
<circle cx="437.50" cy="380.19" r="5.65" fill="#000"/>
<circle cx="448.75" cy="380.19" r="5.65" fill="#000"/>
<circle cx="460.00" cy="380.19" r="5.65" fill="#000"/>
<circle cx="415.00" cy="391.10" r="5.25" fill="#fff" stroke="#000" stroke-width="1.1"/>
<circle cx="426.25" cy="391.10" r="5.25" fill="#fff" stroke="#000" stroke-width="1.1"/>
<circle cx="437.50" cy="391.10" r="5.25" fill="#fff" stroke="#000" stroke-width="1.1"/>
<circle cx="448.75" cy="391.10" r="5.25" fill="#fff" stroke="#000" stroke-width="1.1"/>
<circle cx="460.00" cy="391.10" r="5.25" fill="#fff" stroke="#000" stroke-width="1.1"/>
<circle cx="415.00" cy="402.01" r="5.25" fill="#fff" stroke="#000" stroke-width="1.1"/>
<circle cx="426.25" cy="402.01" r="5.25" fill="#fff" stroke="#000" stroke-width="1.1"/>
<circle cx="437.50" cy="402.01" r="5.25" fill="#fff" stroke="#000" stroke-width="1.1"/>
<circle cx="448.75" cy="402.01" r="5.25" fill="#fff" stroke="#000" stroke-width="1.1"/>
<circle cx="460.00" cy="402.01" r="5.25" fill="#fff" stroke="#000" stroke-width="1.1"/>
<circle cx="415.00" cy="412.92" r="5.25" fill="#fff" stroke="#000" stroke-width="1.1"/>
<circle cx="426.25" cy="412.92" r="5.25" fill="#fff" stroke="#000" stroke-width="1.1"/>
<circle cx="437.50" cy="412.92" r="5.25" fill="#fff" stroke="#000" stroke-width="1.1"/>
<circle cx="448.75" cy="412.92" r="5.25" fill="#fff" stroke="#000" stroke-width="1.1"/>
<circle cx="460.00" cy="412.92" r="5.25" fill="#fff" stroke="#000" stroke-width="1.1"/>
<circle cx="415.00" cy="423.83" r="5.25" fill="#fff" stroke="#000" stroke-width="1.1"/>
<circle cx="426.25" cy="423.83" r="5.25" fill="#fff" stroke="#000" stroke-width="1.1"/>
<circle cx="437.50" cy="423.83" r="5.25" fill="#fff" stroke="#000" stroke-width="1.1"/>
<circle cx="448.75" cy="423.83" r="5.25" fill="#fff" stroke="#000" stroke-width="1.1"/>
<circle cx="460.00" cy="423.83" r="5.25" fill="#fff" stroke="#000" stroke-width="1.1"/>
<circle cx="415.00" cy="434.74" r="5.25" fill="#fff" stroke="#000" stroke-width="1.1"/>
<circle cx="426.25" cy="434.74" r="5.25" fill="#fff" stroke="#000" stroke-width="1.1"/>
<circle cx="437.50" cy="434.74" r="5.25" fill="#fff" stroke="#000" stroke-width="1.1"/>
<circle cx="448.75" cy="434.74" r="5.25" fill="#fff" stroke="#000" stroke-width="1.1"/>
<circle cx="460.00" cy="434.74" r="5.25" fill="#fff" stroke="#000" stroke-width="1.1"/>
<line x1="473.60" y1="260.70" x2="516.20" y2="260.70" stroke="#000" stroke-width="2"/>
<text transform="translate(486.73,257.20) scale(0.7789,1)" font-size="11.3" fill="#000" letter-spacing="0.953">1E</text>
<text transform="translate(475.99,275.00) scale(0.8200,1)" font-size="11.5" fill="#000">1</text>
<text transform="translate(487.46,275.00) scale(0.8200,1)" font-size="11.5" fill="#000">2</text>
<text transform="translate(498.73,275.00) scale(0.8200,1)" font-size="11.5" fill="#000">3</text>
<text transform="translate(509.89,275.00) scale(0.8200,1)" font-size="11.5" fill="#000">4</text>
<circle cx="478.70" cy="282.20" r="5.25" fill="#fff" stroke="#000" stroke-width="1.1"/>
<circle cx="489.95" cy="282.20" r="5.25" fill="#fff" stroke="#000" stroke-width="1.1"/>
<circle cx="501.20" cy="282.20" r="5.25" fill="#fff" stroke="#000" stroke-width="1.1"/>
<circle cx="512.45" cy="282.20" r="5.25" fill="#fff" stroke="#000" stroke-width="1.1"/>
<circle cx="478.70" cy="293.13" r="5.25" fill="#fff" stroke="#000" stroke-width="1.1"/>
<circle cx="489.95" cy="293.13" r="5.25" fill="#fff" stroke="#000" stroke-width="1.1"/>
<circle cx="501.20" cy="293.13" r="5.25" fill="#fff" stroke="#000" stroke-width="1.1"/>
<circle cx="512.45" cy="293.13" r="5.25" fill="#fff" stroke="#000" stroke-width="1.1"/>
<circle cx="478.70" cy="304.06" r="5.65" fill="#000"/>
<circle cx="489.95" cy="304.06" r="5.65" fill="#000"/>
<circle cx="501.20" cy="304.06" r="5.25" fill="#fff" stroke="#000" stroke-width="1.1"/>
<circle cx="512.45" cy="304.06" r="5.65" fill="#000"/>
<circle cx="478.70" cy="314.99" r="5.25" fill="#fff" stroke="#000" stroke-width="1.1"/>
<circle cx="489.95" cy="314.99" r="5.25" fill="#fff" stroke="#000" stroke-width="1.1"/>
<circle cx="501.20" cy="314.99" r="5.25" fill="#fff" stroke="#000" stroke-width="1.1"/>
<circle cx="512.45" cy="314.99" r="5.25" fill="#fff" stroke="#000" stroke-width="1.1"/>
<circle cx="478.70" cy="325.92" r="5.25" fill="#fff" stroke="#000" stroke-width="1.1"/>
<circle cx="489.95" cy="325.92" r="5.25" fill="#fff" stroke="#000" stroke-width="1.1"/>
<circle cx="501.20" cy="325.92" r="5.25" fill="#fff" stroke="#000" stroke-width="1.1"/>
<circle cx="512.45" cy="325.92" r="5.25" fill="#fff" stroke="#000" stroke-width="1.1"/>
<circle cx="478.70" cy="336.85" r="5.25" fill="#fff" stroke="#000" stroke-width="1.1"/>
<circle cx="489.95" cy="336.85" r="5.25" fill="#fff" stroke="#000" stroke-width="1.1"/>
<circle cx="501.20" cy="336.85" r="5.25" fill="#fff" stroke="#000" stroke-width="1.1"/>
<circle cx="512.45" cy="336.85" r="5.25" fill="#fff" stroke="#000" stroke-width="1.1"/>
<circle cx="478.70" cy="347.78" r="5.25" fill="#fff" stroke="#000" stroke-width="1.1"/>
<circle cx="489.95" cy="347.78" r="5.25" fill="#fff" stroke="#000" stroke-width="1.1"/>
<circle cx="501.20" cy="347.78" r="5.25" fill="#fff" stroke="#000" stroke-width="1.1"/>
<circle cx="512.45" cy="347.78" r="5.25" fill="#fff" stroke="#000" stroke-width="1.1"/>
<circle cx="478.70" cy="358.71" r="5.25" fill="#fff" stroke="#000" stroke-width="1.1"/>
<circle cx="489.95" cy="358.71" r="5.25" fill="#fff" stroke="#000" stroke-width="1.1"/>
<circle cx="501.20" cy="358.71" r="5.25" fill="#fff" stroke="#000" stroke-width="1.1"/>
<circle cx="512.45" cy="358.71" r="5.25" fill="#fff" stroke="#000" stroke-width="1.1"/>
<circle cx="478.70" cy="369.64" r="5.25" fill="#fff" stroke="#000" stroke-width="1.1"/>
<circle cx="489.95" cy="369.64" r="5.25" fill="#fff" stroke="#000" stroke-width="1.1"/>
<circle cx="501.20" cy="369.64" r="5.25" fill="#fff" stroke="#000" stroke-width="1.1"/>
<circle cx="512.45" cy="369.64" r="5.25" fill="#fff" stroke="#000" stroke-width="1.1"/>
<circle cx="478.70" cy="380.57" r="5.25" fill="#fff" stroke="#000" stroke-width="1.1"/>
<circle cx="489.95" cy="380.57" r="5.25" fill="#fff" stroke="#000" stroke-width="1.1"/>
<circle cx="501.20" cy="380.57" r="5.25" fill="#fff" stroke="#000" stroke-width="1.1"/>
<circle cx="512.45" cy="380.57" r="5.25" fill="#fff" stroke="#000" stroke-width="1.1"/>
<circle cx="478.70" cy="391.50" r="5.25" fill="#fff" stroke="#000" stroke-width="1.1"/>
<circle cx="489.95" cy="391.50" r="5.25" fill="#fff" stroke="#000" stroke-width="1.1"/>
<circle cx="501.20" cy="391.50" r="5.25" fill="#fff" stroke="#000" stroke-width="1.1"/>
<circle cx="512.45" cy="391.50" r="5.25" fill="#fff" stroke="#000" stroke-width="1.1"/>
<circle cx="478.70" cy="402.43" r="5.25" fill="#fff" stroke="#000" stroke-width="1.1"/>
<circle cx="489.95" cy="402.43" r="5.25" fill="#fff" stroke="#000" stroke-width="1.1"/>
<circle cx="501.20" cy="402.43" r="5.25" fill="#fff" stroke="#000" stroke-width="1.1"/>
<circle cx="512.45" cy="402.43" r="5.25" fill="#fff" stroke="#000" stroke-width="1.1"/>
<circle cx="478.70" cy="413.36" r="5.25" fill="#fff" stroke="#000" stroke-width="1.1"/>
<circle cx="489.95" cy="413.36" r="5.25" fill="#fff" stroke="#000" stroke-width="1.1"/>
<circle cx="501.20" cy="413.36" r="5.25" fill="#fff" stroke="#000" stroke-width="1.1"/>
<circle cx="512.45" cy="413.36" r="5.25" fill="#fff" stroke="#000" stroke-width="1.1"/>
<circle cx="478.70" cy="424.29" r="5.25" fill="#fff" stroke="#000" stroke-width="1.1"/>
<circle cx="489.95" cy="424.29" r="5.25" fill="#fff" stroke="#000" stroke-width="1.1"/>
<circle cx="501.20" cy="424.29" r="5.25" fill="#fff" stroke="#000" stroke-width="1.1"/>
<circle cx="512.45" cy="424.29" r="5.25" fill="#fff" stroke="#000" stroke-width="1.1"/>
<circle cx="478.70" cy="435.22" r="5.25" fill="#fff" stroke="#000" stroke-width="1.1"/>
<circle cx="489.95" cy="435.22" r="5.25" fill="#fff" stroke="#000" stroke-width="1.1"/>
<circle cx="501.20" cy="435.22" r="5.25" fill="#fff" stroke="#000" stroke-width="1.1"/>
<circle cx="512.45" cy="435.22" r="5.25" fill="#fff" stroke="#000" stroke-width="1.1"/>
<text transform="translate(313.96,464.00) scale(0.8536,1)" font-size="11.4" fill="#000" letter-spacing="0.832">98%</text>
<text transform="translate(369.72,466.60) scale(0.8221,1)" font-size="11.4" fill="#000" letter-spacing="0.834">56%</text>
<text transform="translate(427.66,454.00) scale(0.8410,1)" font-size="11.4" fill="#000" letter-spacing="0.832">21%</text>
<text transform="translate(485.73,454.00) scale(0.7982,1)" font-size="11.4" fill="#000" letter-spacing="1.193">5%</text>
</svg>
</body></html>
